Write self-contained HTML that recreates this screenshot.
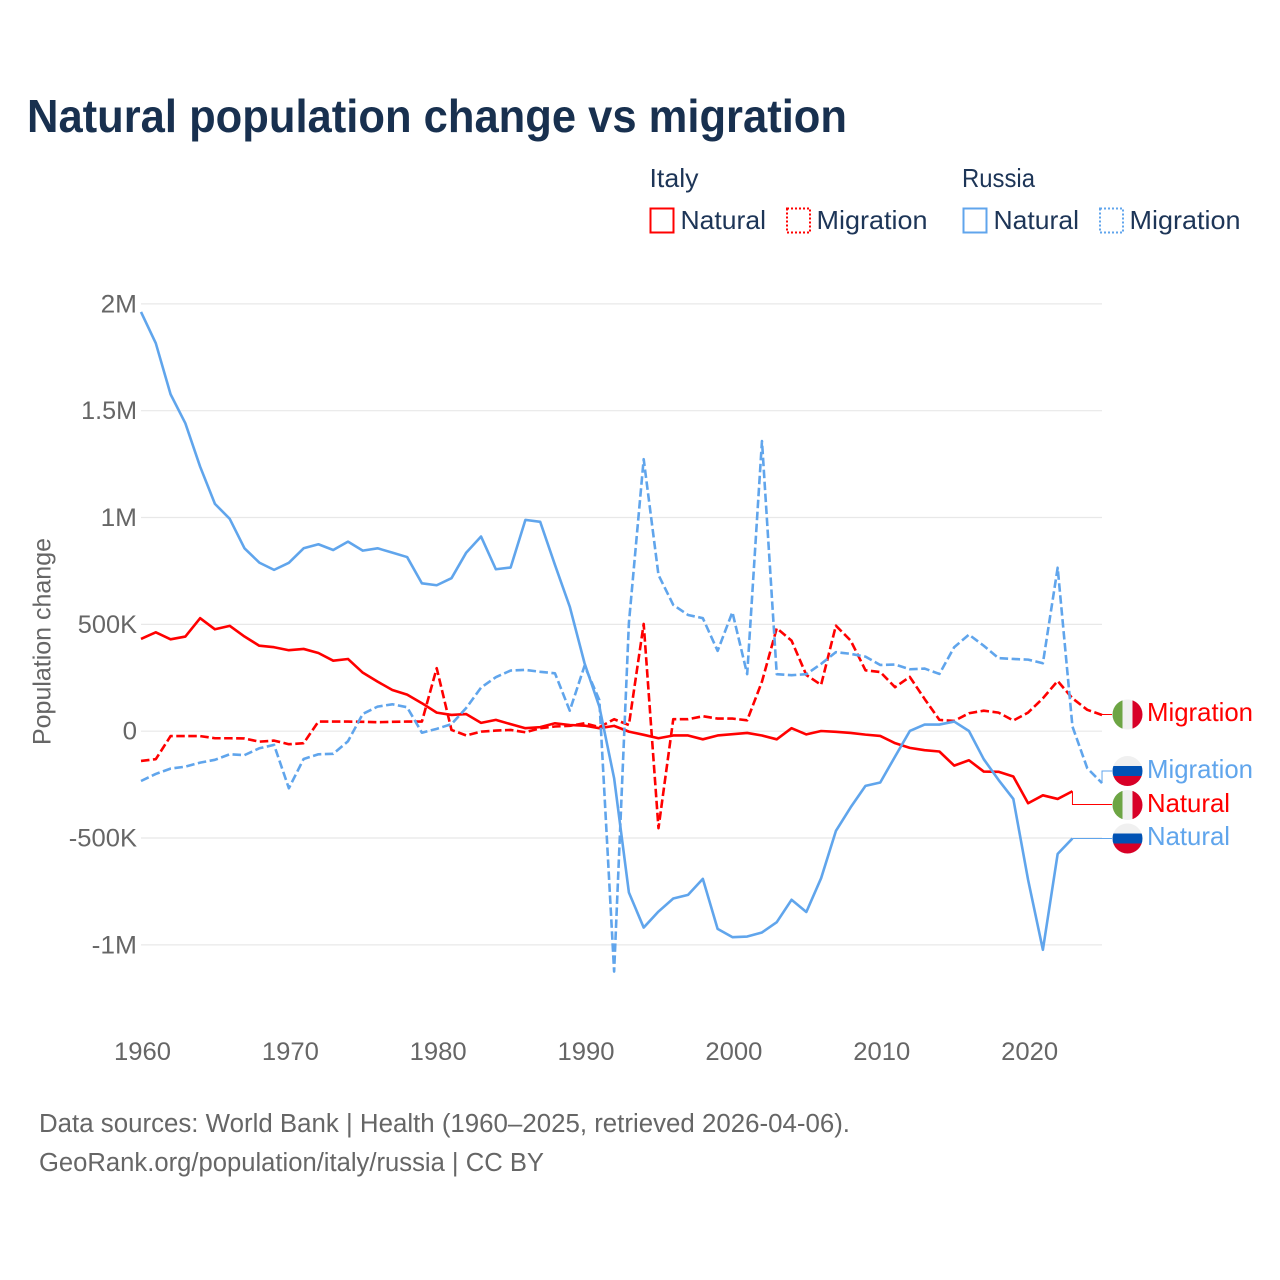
<!DOCTYPE html>
<html lang="en">
<head>
<meta charset="utf-8">
<title>Natural population change vs migration</title>
<style>
html,body{margin:0;padding:0;background:#fff;}
svg{display:block;}
text{font-family:"Liberation Sans",sans-serif;}
</style>
</head>
<body>
<svg id="chart" xmlns="http://www.w3.org/2000/svg" width="1280" height="1280" viewBox="0 0 1280 1280">
  <defs>
    <clipPath id="flag-clip"><circle cx="15" cy="15" r="15"/></clipPath>
    <g id="flag-italy">
      <g clip-path="url(#flag-clip)">
        <rect x="0" y="0" width="30" height="30" fill="#f0f0f0"/>
        <rect x="0" y="0" width="10" height="30" fill="#6da544"/>
        <rect x="20" y="0" width="10" height="30" fill="#d80027"/>
      </g>
    </g>
    <g id="flag-russia">
      <g clip-path="url(#flag-clip)">
        <rect x="0" y="0" width="30" height="30" fill="#f0f0f0"/>
        <rect x="0" y="10" width="30" height="10" fill="#0052b4"/>
        <rect x="0" y="20" width="30" height="10" fill="#d80027"/>
      </g>
    </g>
  </defs>

  <text x="27" y="132" font-size="46" font-weight="700" fill="#18304f" textLength="820" lengthAdjust="spacingAndGlyphs">Natural population change vs migration</text>

  <g>
    <text x="649.5" y="187" font-size="26" fill="#1d3557" textLength="49" lengthAdjust="spacingAndGlyphs">Italy</text>
    <text x="962" y="187" font-size="26" fill="#1d3557" textLength="73" lengthAdjust="spacingAndGlyphs">Russia</text>
    <rect x="650.5" y="208.5" width="23" height="24" fill="none" stroke="#ff0000" stroke-width="2"/>
    <text x="680.5" y="229" font-size="26" fill="#1d3557" textLength="85.5" lengthAdjust="spacingAndGlyphs">Natural</text>
    <rect x="787" y="208.5" width="23" height="24" fill="none" stroke="#ff0000" stroke-width="2" stroke-dasharray="2 2"/>
    <text x="816.5" y="229" font-size="26" fill="#1d3557" textLength="111" lengthAdjust="spacingAndGlyphs">Migration</text>
    <rect x="963.5" y="208.5" width="23" height="24" fill="none" stroke="#60a5ec" stroke-width="2"/>
    <text x="993.5" y="229" font-size="26" fill="#1d3557" textLength="85.5" lengthAdjust="spacingAndGlyphs">Natural</text>
    <rect x="1100" y="208.5" width="23" height="24" fill="none" stroke="#60a5ec" stroke-width="2" stroke-dasharray="2 2"/>
    <text x="1129.5" y="229" font-size="26" fill="#1d3557" textLength="111" lengthAdjust="spacingAndGlyphs">Migration</text>
  </g>

  <g id="grid"></g>
  <g id="y-axis"></g>
  <g id="x-axis"></g>
  <text transform="translate(50.5,745) rotate(-90)" x="0" y="0" font-size="25" fill="#666666" textLength="207" lengthAdjust="spacingAndGlyphs">Population change</text>

  <g id="series"></g>

  <g>
    <use href="#flag-italy" x="1112.5" y="699.5"/>
    <text x="1147" y="721" font-size="26" fill="#ff0000" textLength="106" lengthAdjust="spacingAndGlyphs">Migration</text>
    <use href="#flag-russia" x="1112.5" y="756"/>
    <text x="1147" y="778" font-size="26" fill="#60a5ec" textLength="106" lengthAdjust="spacingAndGlyphs">Migration</text>
    <use href="#flag-italy" x="1112.5" y="790"/>
    <text x="1147" y="812" font-size="26" fill="#ff0000" textLength="83" lengthAdjust="spacingAndGlyphs">Natural</text>
    <use href="#flag-russia" x="1112.5" y="823.5"/>
    <text x="1147" y="845" font-size="26" fill="#60a5ec" textLength="83" lengthAdjust="spacingAndGlyphs">Natural</text>
  </g>

  <text x="39" y="1132" font-size="25.5" fill="#666666" textLength="811" lengthAdjust="spacingAndGlyphs">Data sources: World Bank | Health (1960–2025, retrieved 2026-04-06).</text>
  <text x="39" y="1171" font-size="25.5" fill="#666666" textLength="505" lengthAdjust="spacingAndGlyphs">GeoRank.org/population/italy/russia | CC BY</text>
</svg>

<script>
// All population values are in thousands of people.
const years = [1960,1961,1962,1963,1964,1965,1966,1967,1968,1969,1970,1971,1972,1973,1974,1975,1976,1977,1978,1979,1980,1981,1982,1983,1984,1985,1986,1987,1988,1989,1990,1991,1992,1993,1994,1995,1996,1997,1998,1999,2000,2001,2002,2003,2004,2005,2006,2007,2008,2009,2010,2011,2012,2013,2014,2015,2016,2017,2018,2019,2020,2021,2022,2023,2024,2025];

const italyNatural = [432,463,430,443,529,477,493,443,400,393,379,385,366,330,338,274,232,193,171,131,87,76,80,39,53,33,14,19,37,29,26,14,25,-2,-17,-33,-20,-20,-38,-20,-14,-8,-20,-38,14,-15,1,-3,-8,-16,-22,-56,-78,-89,-95,-161,-136,-189,-190,-212,-337,-300,-317,-281];

const italyMigration = [-139,-131,-23,-23,-23,-33,-33,-34,-49,-44,-61,-56,45,45,45,44,42,44,45,45,295,6,-20,-2,3,6,-5,14,22,25,37,19,56,29,502,-454,56,56,70,59,59,51,232,482,424,263,217,494,424,285,277,206,254,151,53,48,84,96,87,50,87,154,235,154,100,76];

const russiaNatural = [1962,1816,1577,1441,1238,1064,994,856,789,755,788,856,875,848,887,845,856,836,815,692,683,716,836,911,758,766,989,980,778,583,318,115,-220,-755,-919,-844,-783,-766,-691,-925,-964,-961,-942,-894,-789,-846,-688,-467,-356,-256,-240,-119,1,31,31,45,1,-131,-228,-317,-696,-1023,-574,-502];

const russiaMigration = [-233,-200,-175,-166,-147,-134,-108,-112,-80,-64,-267,-130,-108,-106,-47,81,115,126,112,-7,11,33,109,204,253,284,287,278,271,96,306,146,-1125,507,1273,731,591,544,529,376,557,267,1358,267,262,267,315,370,362,349,310,312,290,293,268,393,452,400,342,338,335,318,765,22,-173,-243];

const yTicks = [2000,1500,1000,500,0,-500,-1000];
const yTickLabels = ["2M","1.5M","1M","500K","0","-500K","-1M"];
const xTicks = [1960,1970,1980,1990,2000,2010,2020];

const endLabelY = {italyNatural:804.5, italyMigration:714.5, russiaNatural:838.5, russiaMigration:771};

const SVG_NS = "http://www.w3.org/2000/svg";
const X0 = 141, X_PER_YEAR = 14.785;
const Y0 = 731.2, Y_PER_K = 0.21367;
const GRID_LEFT = 141, GRID_RIGHT = 1102, LABEL_START = 1112;

function xScale(year){ return X0 + (year - years[0]) * X_PER_YEAR; }
function yScale(value){ return Y0 - value * Y_PER_K; }

function tickLabelWidth(text){
  let width = 0;
  for (const ch of text) {
    if (ch === "M") width += 22;
    else if (ch === "K") width += 16;
    else if (ch === ".") width += 5;
    else if (ch === "-") width += 9;
    else width += 14.4;
  }
  return width;
}

const gridLayer = document.getElementById("grid");
const yAxisLayer = document.getElementById("y-axis");
const xAxisLayer = document.getElementById("x-axis");
const seriesLayer = document.getElementById("series");

yTicks.forEach(function(tick, i){
  const line = document.createElementNS(SVG_NS, "line");
  
  
  line.setAttribute("x1", GRID_LEFT);
  line.setAttribute("x2", GRID_RIGHT);
  line.setAttribute("y1", yScale(tick));
  line.setAttribute("y2", yScale(tick));
  line.setAttribute("stroke", "#e8e8e8");
  line.setAttribute("stroke-width", "1.2");
  gridLayer.appendChild(line);

  const label = document.createElementNS(SVG_NS, "text");
  
  
  label.setAttribute("x", 137);
  label.setAttribute("y", yScale(tick) + 8.5);
  label.setAttribute("text-anchor", "end");
  label.setAttribute("font-size", "25");
  label.setAttribute("fill", "#666666");
  label.setAttribute("textLength", tickLabelWidth(yTickLabels[i]));
  label.setAttribute("lengthAdjust", "spacingAndGlyphs");
  label.textContent = yTickLabels[i];
  yAxisLayer.appendChild(label);
});

xTicks.forEach(function(tick){
  const label = document.createElementNS(SVG_NS, "text");
  
  
  label.setAttribute("x", xScale(tick) + 1.5);
  label.setAttribute("y", 1060);
  label.setAttribute("text-anchor", "middle");
  label.setAttribute("font-size", "25");
  label.setAttribute("fill", "#666666");
  label.setAttribute("textLength", "57");
  label.setAttribute("lengthAdjust", "spacingAndGlyphs");
  label.textContent = String(tick);
  xAxisLayer.appendChild(label);
});

function drawSeries(values, color, dashed, labelY, name){
  const points = values.map(function(v, i){
    return xScale(years[i]).toFixed(2) + "," + yScale(v).toFixed(2);
  });
  const path = document.createElementNS(SVG_NS, "path");
  
  
  path.setAttribute("d", "M" + points.join("L"));
  path.setAttribute("fill", "none");
  path.setAttribute("stroke", color);
  path.setAttribute("stroke-width", "2.6");
  path.setAttribute("stroke-linejoin", "round");
  if (dashed) path.setAttribute("stroke-dasharray", "8.5 3.5");
  seriesLayer.appendChild(path);

  const last = values.length - 1;
  const connector = document.createElementNS(SVG_NS, "path");
  
  
  connector.setAttribute("d", "M" + xScale(years[last]) + "," + yScale(values[last]) + "V" + labelY + "H" + LABEL_START);
  connector.setAttribute("fill", "none");
  connector.setAttribute("stroke", color);
  connector.setAttribute("stroke-width", "1");
  seriesLayer.appendChild(connector);
}

drawSeries(italyNatural, "#ff0000", false, endLabelY.italyNatural, "italy-natural");
drawSeries(italyMigration, "#ff0000", true, endLabelY.italyMigration, "italy-migration");
drawSeries(russiaNatural, "#60a5ec", false, endLabelY.russiaNatural, "russia-natural");
drawSeries(russiaMigration, "#60a5ec", true, endLabelY.russiaMigration, "russia-migration");
</script>
</body>
</html>
